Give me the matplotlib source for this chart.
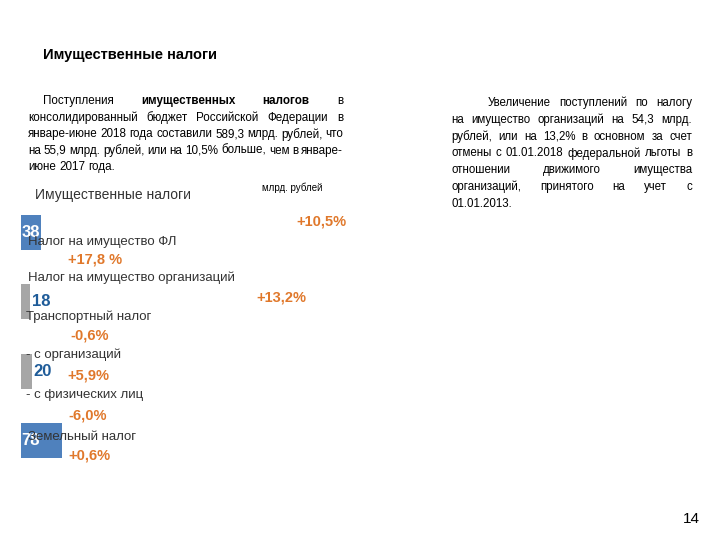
import matplotlib
matplotlib.use('Agg')
import matplotlib.pyplot as plt

W, H = 720, 540

# bar data (млрд. рублей)
bar_values = [38, 18, 20, 78]
bar_kinds = ['blue', 'gray', 'gray', 'blue']

# tax rows and growth
tax_names = ['Налог на имущество ФЛ', 'Налог на имущество организаций',
             'Транспортный налог', '- с организаций', '- с физических лиц',
             'Земельный налог']
tax_growth = ['+17,8 %', '+13,2%', '-0,6%', '+5,9%', '-6,0%', '+0,6%']
total_growth = '+10,5%'

slide_title = 'Имущественные налоги'
chart_title = 'Имущественные налоги'
units = 'млрд. рублей'
page_no = '14'

left_lines = [
    'Поступления имущественных налогов в',
    'консолидированный бюджет Российской Федерации в',
    'январе-июне 2018 года составили 589,3 млрд. рублей, что',
    'на 55,9 млрд. рублей, или на 10,5% больше, чем в январе-',
    'июне 2017 года.',
]
left_bold = {(0, 1), (0, 2)}

right_lines = [
    'Увеличение поступлений по налогу',
    'на имущество организаций на 54,3 млрд.',
    'рублей, или на 13,2% в основном за счет',
    'отмены с 01.01.2018 федеральной льготы в',
    'отношении движимого имущества',
    'организаций, принятого на учет с',
    '01.01.2013.',
]

FONT = ['Liberation Sans', 'DejaVu Sans']
ORANGE = '#E0782B'
TEXT = '#333333'
COLORS = {'blue': '#4F81BD', 'gray': '#A6A6A6'}

fig = plt.figure(figsize=(7.2, 5.4), dpi=100)
renderer = fig.canvas.get_renderer()


def put(x, y, s, **kw):
    # x, y in pixels from top-left
    return fig.text(x / W, 1 - y / H, s, va='center', family=FONT, **kw)


def justified(lines, x_first, x_left, x_right, y0, dy, bold=(), size=8.5):
    for i, line in enumerate(lines):
        words = line.split()
        y = y0 + i * dy
        xs = x_first if i == 0 else x_left
        texts = [put(0, y, w, size=size, color='black',
                     weight='bold' if (i, j) in bold else 'normal')
                 for j, w in enumerate(words)]
        widths = [t.get_window_extent(renderer).width for t in texts]
        if i == len(lines) - 1 or len(words) == 1:
            gap = size * 100 / 72 * 0.28
        else:
            gap = (x_right - xs - sum(widths)) / (len(words) - 1)
        x = xs
        for t, w in zip(texts, widths):
            t.set_x(x / W)
            x += w + gap


# slide title and paragraphs
put(43, 55, slide_title, size=10.5, weight='bold', color='black')
justified(left_lines, 43, 28, 343, 101, 16.6, bold=left_bold, size=8.4)
justified(right_lines, 488, 451, 692, 103, 16.8, size=8.3)
put(683, 519, page_no, size=11, color='black')

# bars
ax = fig.add_axes([21 / W, 1 - 475.2 / H, 400 / W, 277.4 / H])
ypos = list(range(len(bar_values)))
ax.barh(ypos, bar_values, height=0.5,
        color=[COLORS[k] for k in bar_kinds])
ax.set_xlim(0, 760)
ax.set_ylim(len(bar_values) - 0.5, -0.5)
ax.axis('off')
for y, v, k in zip(ypos, bar_values, bar_kinds):
    if k == 'blue':
        ax.text(1, y, str(v), ha='left', va='center', color='white',
                weight='bold', size=12, family=FONT)
    else:
        ax.text(v + 3, y, str(v), ha='left', va='center', color='#1F5C99',
                weight='bold', size=12, family=FONT)

# chart texts
put(35, 195, chart_title, size=10, color=TEXT)
put(262, 188, units, size=7, color='black')
put(296, 222, total_growth, size=10.5, weight='bold', color=ORANGE)

name_pos = [(28, 242), (28, 278), (26, 317), (26, 355), (26, 395), (28, 437)]
growth_pos = [(68, 260), (256, 297), (70, 336), (67, 376), (68, 415), (68, 455)]
for name, (x, y) in zip(tax_names, name_pos):
    put(x, y, name, size=9.5, color=TEXT)
for g, (x, y) in zip(tax_growth, growth_pos):
    put(x, y, g, size=10.5, weight='bold', color=ORANGE)

fig.savefig('out.png', dpi=100)
